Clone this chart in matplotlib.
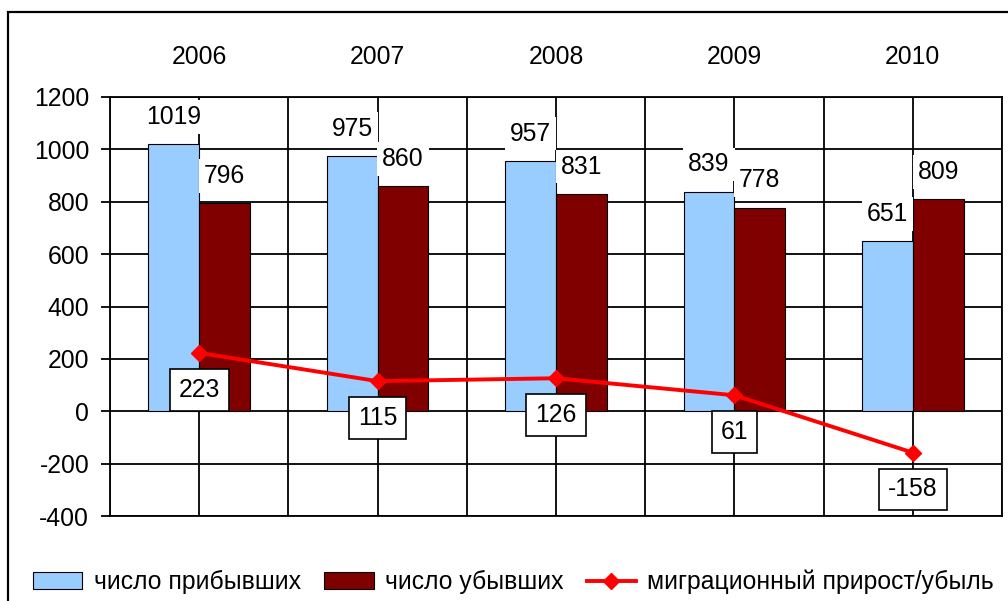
import matplotlib.pyplot as plt
from matplotlib.patches import Rectangle
from matplotlib.ticker import FixedLocator
import numpy as np

years = ["2006", "2007", "2008", "2009", "2010"]
arrived = [1019, 975, 957, 839, 651]
departed = [796, 860, 831, 778, 809]
net = [223, 115, 126, 61, -158]

label_arrived = "число прибывших"
label_departed = "число убывших"
label_net = "миграционный прирост/убыль"

plt.rcParams['font.family'] = ['Liberation Sans', 'DejaVu Sans']
plt.rcParams['axes.unicode_minus'] = False
FS = 17.8

fig = plt.figure(figsize=(10.08, 6.01), dpi=100)
ax = fig.add_axes([110 / 1008, 1 - 516 / 601, (1002 - 110) / 1008, (516 - 97) / 601])

# === outer frame of the picture ===
fig.patches.append(Rectangle((8 / 1008, -0.2), 1.5, 1.2 - 12 / 601,
                             transform=fig.transFigure, fill=False,
                             edgecolor="black", linewidth=1.6))

x = np.arange(len(years))
w = 0.285

b1 = ax.bar(x - w / 2, arrived, w, color="#99CCFF", edgecolor="black",
            linewidth=0.8, label=label_arrived, zorder=2)
b2 = ax.bar(x + w / 2, departed, w, color="#800000", edgecolor="black",
            linewidth=0.8, label=label_departed, zorder=2)
ln, = ax.plot(x, net, color="#FF0000", linewidth=2.8, marker="D",
              markersize=8.5, label=label_net, zorder=3)

# === data labels ===
for xs, vals in ((x - w / 2, arrived), (x + w / 2, departed)):
    for xi, v in zip(xs, vals):
        ax.annotate(str(v), (xi, v), xytext=(0, 19.5), textcoords="offset points",
                    ha="center", va="center", fontsize=FS, zorder=5,
                    bbox=dict(boxstyle="square,pad=0.2", facecolor="white",
                              edgecolor="none"))

for xi, v in zip(x, net):
    ax.annotate(str(v), (xi, v), xytext=(0, -26.5), textcoords="offset points",
                ha="center", va="center", fontsize=FS, zorder=6,
                bbox=dict(boxstyle="square,pad=0.36", facecolor="white",
                          edgecolor="black", linewidth=1.2))

# === axes ===
ax.set_xlim(-0.5, len(years) - 0.5)
ax.set_ylim(-400, 1200)
ax.set_yticks(range(-400, 1201, 200))
ax.tick_params(axis="y", labelsize=FS, length=6.5, width=1.3, pad=8.5,
               direction="out")

ax.xaxis.tick_top()
ax.set_xticks(x)
ax.set_xticklabels(years)
ax.xaxis.set_minor_locator(FixedLocator(np.arange(-0.5, len(years), 1.0)))
ax.tick_params(axis="x", which="both", length=0, labelsize=FS, pad=20)

ax.set_axisbelow(True)
ax.grid(True, which="both", axis="x", color="black", linewidth=1.3)
ax.grid(True, which="major", axis="y", color="black", linewidth=1.3)
for s in ax.spines.values():
    s.set_linewidth(1.3)
    s.set_color("black")

fig.legend(handles=[b1, b2, ln], loc="center left",
           bbox_to_anchor=(33 / 1008, 1 - 582 / 601), ncol=3, frameon=False,
           fontsize=FS, handlelength=2.0, handletextpad=0.45,
           columnspacing=0.95, borderpad=0, borderaxespad=0)

fig.savefig("out.png", dpi=100)
